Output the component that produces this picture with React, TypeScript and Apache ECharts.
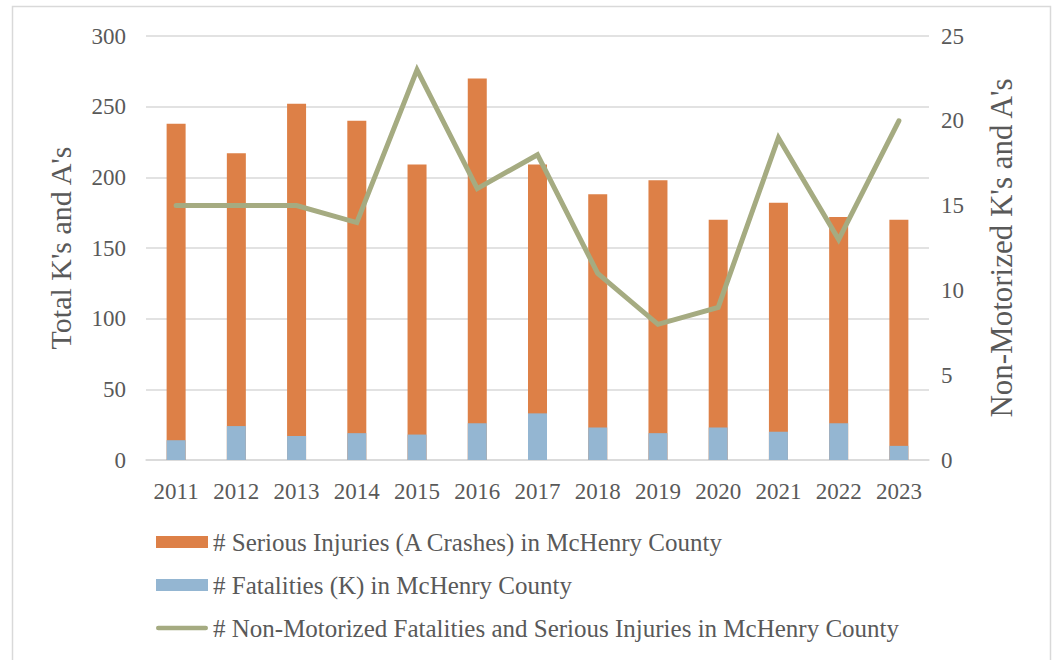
import React, { useEffect, useRef } from "react";
import * as echarts from "echarts";

const years = ["2011", "2012", "2013", "2014", "2015", "2016", "2017", "2018", "2019", "2020", "2021", "2022", "2023"];
const seriousInjuries = [238, 217, 252, 240, 209, 270, 209, 188, 198, 170, 182, 172, 170];
const fatalities = [14, 24, 17, 19, 18, 26, 33, 23, 19, 23, 20, 26, 10];
const nonMotorized = [15, 15, 15, 14, 23, 16, 18, 11, 8, 9, 19, 13, 20];

const FONT = "Liberation Serif";
const TEXT = "#595959";
const GRID = "#D9D9D9";
const LINE_ICON = "path://M2.5,0 L54.5,0 A2.5,2.5 0 0 1 54.5,5 L2.5,5 A2.5,2.5 0 0 1 2.5,0 Z";

export default function App() {
  const ref = useRef<HTMLDivElement>(null);
  useEffect(() => {
    if (!ref.current) return;
    const chart = echarts.init(ref.current, null, { renderer: "svg" });
    chart.setOption({
      animation: false,
      backgroundColor: "#ffffff",
      textStyle: { fontFamily: FONT, color: TEXT },
      graphic: [
        {
          type: "rect",
          shape: { x: 12.5, y: 6.5, width: 1038, height: 670 },
          style: { fill: "none", stroke: GRID, lineWidth: 1.5 },
          silent: true,
        },
      ],
      grid: { left: 146, right: 126, top: 36, bottom: 200, containLabel: false },
      legend: {
        orient: "vertical",
        left: 156,
        top: 529,
        padding: 0,
        itemWidth: 52,
        itemHeight: 12,
        itemGap: 17,
        symbolKeepAspect: true,
        textStyle: { fontFamily: FONT, fontSize: 25, color: TEXT, lineHeight: 26 },
        data: [
          { name: "# Serious Injuries (A Crashes) in McHenry County", icon: "rect" },
          { name: "# Fatalities (K) in McHenry County", icon: "rect" },
          {
            name: "# Non-Motorized Fatalities and Serious Injuries in McHenry County",
            icon: LINE_ICON,
            itemStyle: { color: "#A5AB81", borderWidth: 0 },
          },
        ],
      },
      xAxis: {
        type: "category",
        data: years,
        axisTick: { show: false },
        axisLine: { lineStyle: { color: GRID, width: 1.5 } },
        axisLabel: { fontFamily: FONT, fontSize: 23, color: TEXT, margin: 20 },
      },
      yAxis: [
        {
          type: "value",
          min: 0,
          max: 300,
          interval: 50,
          name: "Total K's and A's",
          nameLocation: "middle",
          nameGap: 71,
          nameTextStyle: { fontFamily: FONT, fontSize: 30, color: TEXT },
          axisLabel: { fontFamily: FONT, fontSize: 23, color: TEXT, margin: 20 },
          splitLine: { lineStyle: { color: GRID, width: 1.5 } },
          axisLine: { show: false },
          axisTick: { show: false },
        },
        {
          type: "value",
          min: 0,
          max: 25,
          interval: 5,
          position: "right",
          name: "Non-Motorized K's and A's",
          nameLocation: "middle",
          nameGap: 57,
          nameTextStyle: { fontFamily: FONT, fontSize: 31, color: TEXT },
          axisLabel: { fontFamily: FONT, fontSize: 23, color: TEXT, margin: 12 },
          splitLine: { show: false },
          axisLine: { show: false },
          axisTick: { show: false },
        },
      ],
      series: [
        {
          name: "# Serious Injuries (A Crashes) in McHenry County",
          type: "bar",
          data: seriousInjuries,
          barWidth: 19,
          barGap: "-100%",
          itemStyle: { color: "#DD8047" },
        },
        {
          name: "# Fatalities (K) in McHenry County",
          type: "bar",
          data: fatalities,
          barWidth: 19,
          barGap: "-100%",
          itemStyle: { color: "#94B6D2" },
        },
        {
          name: "# Non-Motorized Fatalities and Serious Injuries in McHenry County",
          type: "line",
          yAxisIndex: 1,
          data: nonMotorized,
          symbol: "none",
          showSymbol: false,
          itemStyle: { color: "#A5AB81" },
          lineStyle: { color: "#A5AB81", width: 5, join: "miter", cap: "round" },
          z: 5,
        },
      ],
    });
    return () => chart.dispose();
  }, []);
  return (
    <div
      ref={ref}
      style={{ position: "absolute", left: 0, top: 0, width: 1055, height: 660 }}
    />
  );
}
